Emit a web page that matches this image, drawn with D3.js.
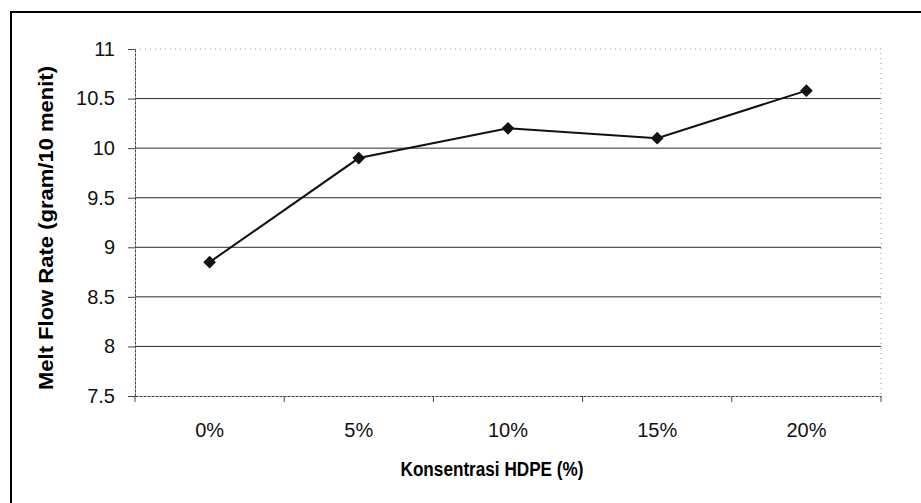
<!DOCTYPE html>
<html>
<head>
<meta charset="utf-8">
<script src="https://cdn.jsdelivr.net/npm/d3@7"></script>
<style>
  body { margin: 0; background: #fff; }
  svg { display: block; font-family: Arial, "Liberation Sans", sans-serif; }
</style>
</head>
<body>
<div id="chart"></div>
<script>
// data
var categories = ["0%", "5%", "10%", "15%", "20%"];
var mfrValues = [8.85, 9.9, 10.2, 10.1, 10.58];
var yTicks = [7.5, 8, 8.5, 9, 9.5, 10, 10.5, 11];

var margin = {top: 49, right: 40, bottom: 107, left: 135},
    width = 921 - margin.left - margin.right,
    height = 503 - margin.top - margin.bottom;

var svg = d3.select("#chart")
  .append("svg")
    .attr("width", 921)
    .attr("height", 503);

// outer frame (only top and left edges are inside the picture)
svg.append("rect")
  .attr("x", 11).attr("y", 12)
  .attr("width", 1000).attr("height", 1000)
  .attr("fill", "#fff")
  .attr("stroke", "#000")
  .attr("stroke-width", 2);

var g = svg.append("g")
  .attr("transform", "translate(" + margin.left + "," + margin.top + ")");

var x = d3.scaleBand()
  .domain(categories)
  .range([0, width]);

var y = d3.scaleLinear()
  .domain([7.5, 11])
  .range([height, 0]);

// horizontal gridlines
g.append("g")
  .selectAll("line")
  .data(yTicks.filter(function(d) { return d > 7.5 && d < 11; }))
  .enter()
  .append("line")
    .attr("x1", 0).attr("x2", width)
    .attr("y1", d => y(d)).attr("y2", d => y(d))
    .attr("stroke", "#2a2a2a")
    .attr("stroke-width", 1);

// plot frame top and right (faint dotted)
g.append("path")
  .attr("d", "M0," + y(11) + "H" + width + "V" + height)
  .attr("fill", "none")
  .attr("stroke", "#999")
  .attr("stroke-dasharray", "1,4");

// y axis
var yAxis = g.append("g")
  .call(d3.axisLeft(y).tickValues(yTicks).tickSize(7).tickSizeOuter(0).tickPadding(13)
    .tickFormat(d => d));
yAxis.select(".domain").attr("stroke", "#444").attr("stroke-dasharray", "3,1");
yAxis.selectAll(".tick line").attr("stroke", "#444");
yAxis.selectAll("text")
  .style("font-size", "20px")
  .attr("fill", "#111");

// x axis: labels at category centres, ticks at the band edges
var xAxis = g.append("g")
  .attr("transform", "translate(0," + height + ")")
  .call(d3.axisBottom(x).tickSize(0).tickPadding(27));
xAxis.select(".domain").attr("stroke", "#444").attr("stroke-dasharray", "3,1");
xAxis.selectAll("text")
  .style("font-size", "20px")
  .attr("fill", "#111");

var edges = categories.map(d => x(d)).concat([width]);
xAxis.selectAll(".edge")
  .data(edges)
  .enter()
  .append("line")
    .attr("class", "edge")
    .attr("x1", d => d).attr("x2", d => d)
    .attr("y1", 0).attr("y2", 6)
    .attr("stroke", "#444");

// the series
var line = d3.line()
  .x((d, i) => x(categories[i]) + x.bandwidth() / 2)
  .y(d => y(d));

g.append("path")
  .datum(mfrValues)
  .attr("d", line)
  .attr("fill", "none")
  .attr("stroke", "#111")
  .attr("stroke-width", 2);

g.selectAll(".marker")
  .data(mfrValues)
  .enter()
  .append("path")
    .attr("class", "marker")
    .attr("d", d3.symbol(d3.symbolSquare, 81))
    .attr("transform", (d, i) => "translate(" + (x(categories[i]) + x.bandwidth() / 2) + "," + y(d) + ") rotate(45)")
    .attr("fill", "#111");

// axis titles
svg.append("text")
  .attr("x", 492)
  .attr("y", 476)
  .attr("text-anchor", "middle")
  .attr("textLength", 183)
  .attr("lengthAdjust", "spacingAndGlyphs")
  .style("font-size", "20px")
  .style("font-weight", "bold")
  .text("Konsentrasi HDPE (%)");

svg.append("text")
  .attr("transform", "translate(53,228) rotate(-90)")
  .attr("text-anchor", "middle")
  .attr("textLength", 324)
  .attr("lengthAdjust", "spacingAndGlyphs")
  .style("font-size", "21px")
  .style("font-weight", "bold")
  .text("Melt Flow Rate (gram/10 menit)");
</script>
</body>
</html>
